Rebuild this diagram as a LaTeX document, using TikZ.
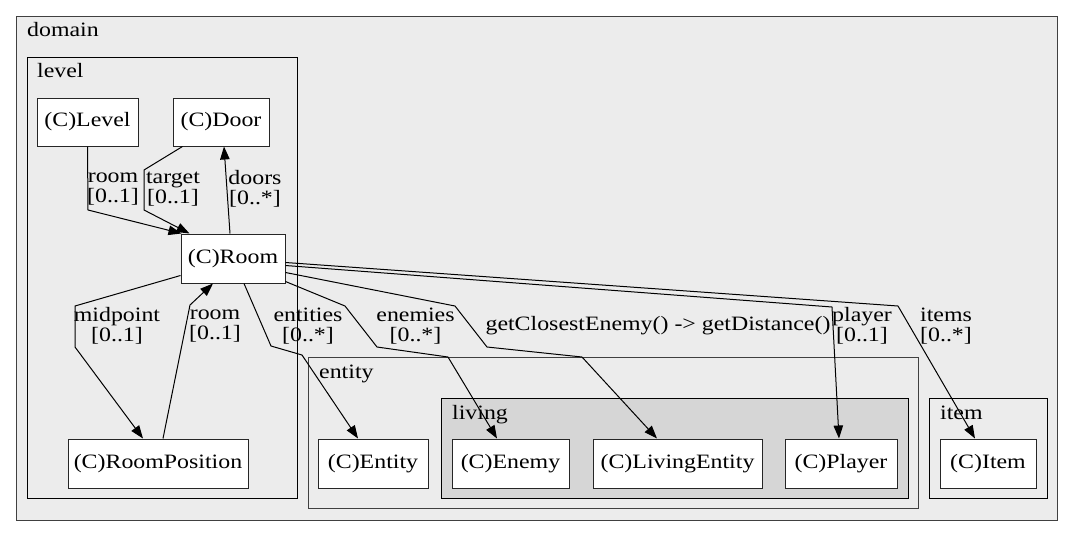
\documentclass[tikz,border=0pt]{standalone}
\usepackage{fontspec}
\setmainfont{Liberation Serif}[FakeStretch=1.17]
\usetikzlibrary{arrows.meta,calc}
\definecolor{clbg}{HTML}{ECECEC}
\definecolor{livbg}{HTML}{D6D6D6}
\begin{document}
\begin{tikzpicture}[x=1pt,y=-1pt,
  font=\fontsize{20.4}{20}\selectfont,
  cluster/.style={draw=black, line width=1pt, fill=clbg},
  cls/.style={draw=black!85, fill=white, line width=1pt, minimum height=49pt, inner sep=0pt},
  lbl/.style={align=center, inner sep=0pt},
  clusterlbl/.style={anchor=base west, inner sep=0pt},
  edge/.style={draw=black, line width=1pt, -{Triangle[length=13pt,width=9.5pt]}}]
\useasboundingbox[fill=white] (0,0) rectangle (1073,536);
% clusters
\draw[cluster, draw=black!75] (16,16) rectangle (1057,520);
\node[clusterlbl] (domainlbl) at (27,36) {domain};
\draw[cluster] (27,57) rectangle (297,498);
\node[clusterlbl] (levellbl) at (37,77) {level};
\draw[cluster, draw=black!75] (308,357) rectangle (918,508);
\node[clusterlbl] (entitylbl) at (319,378) {entity};
\draw[cluster, fill=livbg] (441,398) rectangle (908,498);
\node[clusterlbl] (livinglbl) at (452,419) {living};
\draw[cluster] (929,398) rectangle (1047,498);
\node[clusterlbl] (itemlbl) at (940,419) {item};
% class nodes
\node[cls, minimum width=101pt, minimum height=48pt] (Level) at (87.5,122) {(C)Level};
\node[cls, minimum width=96pt, minimum height=48pt] (Door) at (221,122) {(C)Door};
\node[cls, minimum width=104pt] (Room) at (233,258.5) {(C)Room};
\node[cls, minimum width=180pt] (RoomPosition) at (158,463.5) {(C)RoomPosition};
\node[cls, minimum width=110pt] (Entity) at (373,463.5) {(C)Entity};
\node[cls, minimum width=117pt] (Enemy) at (510.5,463.5) {(C)Enemy};
\node[cls, minimum width=169pt] (LivingEntity) at (677.5,463.5) {(C)LivingEntity};
\node[cls, minimum width=112pt] (Player) at (841,463.5) {(C)Player};
\node[cls, minimum width=96pt] (Item) at (988,463.5) {(C)Item};
% edges
\draw[edge] (Level.south) -- (88,210) -- ($(Room.north west)+(1,0)$);
\draw[edge] ($(Door.south west)+(10,0)$) -- (144,170) -- (144,210) -- ($(Room.north west)+(9,0)$);
\draw[edge] ($(Room.north)+(-3,0)$) -- ($(Door.south)+(3,0)$);
\draw[edge] ($(Room.south west)+(0,-8)$) -- (75,306) -- (75,347) -- ($(RoomPosition.north)+(-15,0)$);
\draw[edge] ($(RoomPosition.north)+(5,0)$) -- (190,305) -- ($(Room.south)+(-20,0)$);
\draw[edge] ($(Room.south)+(11,0)$) -- (271,346) -- (302,355) -- ($(Entity.north)+(-15,0)$);
\draw[edge] ($(Room.south east)+(0,-2)$) -- (345,306) -- (377,347) -- (448,357) -- ($(Enemy.north)+(-13.5,0)$);
\draw[edge] ($(Room.south east)+(0,-11)$) -- (455,306) -- (487,347) -- (582,357) -- ($(LivingEntity.north)+(-20.5,0)$);
\draw[edge] ($(Room.north east)+(0,32)$) -- (832,307) -- ($(Player.north)+(-2,0)$);
\draw[edge] ($(Room.north east)+(0,29)$) -- (898,306) -- ($(Item.north)+(-13,0)$);
% edge labels
\node[lbl] (l1) at (113,189) {room\\{}[0..1]};
\node[lbl] (l2) at (173,189) {target\\{}[0..1]};
\node[lbl] (l3) at (255,189) {doors\\{}[0..*]};
\node[lbl] (l4) at (117,326) {midpoint\\{}[0..1]};
\node[lbl] (l5) at (215,326) {room\\{}[0..1]};
\node[lbl] (l6) at (308,326) {entities\\{}[0..*]};
\node[lbl] (l7) at (415.5,326) {enemies\\{}[0..*]};
\node[lbl] (l8) at (658,326) {getClosestEnemy() -> getDistance()};
\node[lbl] (l9) at (862,326) {player\\{}[0..1]};
\node[lbl] (l10) at (946,326) {items\\{}[0..*]};
\end{tikzpicture}
\end{document}
